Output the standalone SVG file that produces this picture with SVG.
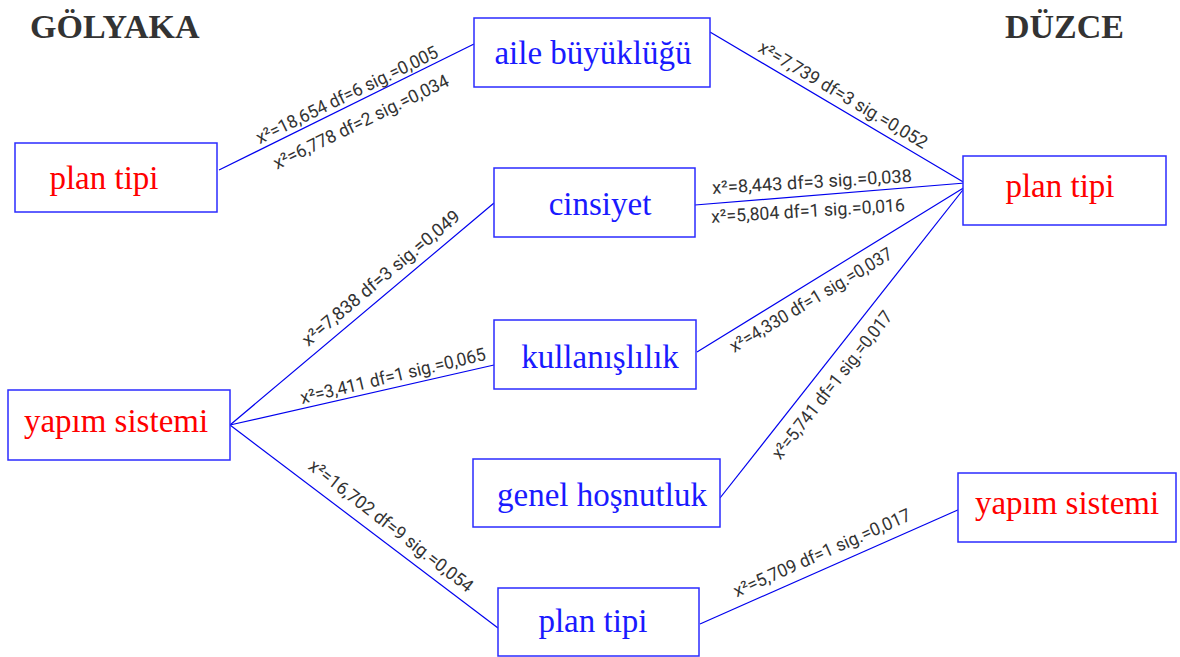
<svg xmlns="http://www.w3.org/2000/svg" width="1180" height="657" viewBox="0 0 1180 657">
<style>
.box{fill:#fff;stroke:#2b2bff;stroke-width:1.5}
.nb{font-family:"Liberation Serif","Times New Roman",serif;font-size:33px;fill:#1a1aff;text-anchor:middle}
.nr{font-family:"Liberation Serif","Times New Roman",serif;font-size:33px;fill:#ff0000;text-anchor:middle}
.title{font-family:"Liberation Serif","Times New Roman",serif;font-size:34px;font-weight:bold;fill:#333}
.ln{stroke:#0000ee;stroke-width:1.2;fill:none}
.lb{font-family:Roboto,"Open Sans","DejaVu Sans",sans-serif;font-size:18px;fill:#333;text-anchor:middle}
</style>
<rect width="1180" height="657" fill="#fff"/>
<text class="title" x="30" y="38">GÖLYAKA</text>
<text class="title" x="1005" y="38">DÜZCE</text>
<g id="connectors">
<line class="ln" x1="219" y1="170" x2="474" y2="44"/>
<line class="ln" x1="710" y1="32" x2="965" y2="183"/>
<line class="ln" x1="695" y1="205" x2="965" y2="183"/>
<line class="ln" x1="697" y1="352" x2="965" y2="187"/>
<line class="ln" x1="720" y1="498" x2="966" y2="186"/>
<line class="ln" x1="230" y1="425" x2="494" y2="203"/>
<line class="ln" x1="230" y1="425" x2="494" y2="365"/>
<line class="ln" x1="230" y1="425" x2="498" y2="628"/>
<line class="ln" x1="700" y1="624" x2="960" y2="509"/>
<g class="lb">
<text class="lb" transform="translate(347,95) rotate(-26)" y="6" textLength="200" lengthAdjust="spacingAndGlyphs">x²=18,654 df=6 sig.=0,005</text>
<text class="lb" transform="translate(361,122) rotate(-26)" y="6" textLength="193" lengthAdjust="spacingAndGlyphs">x²=6,778 df=2 sig.=0,034</text>
<text class="lb" transform="translate(843,95) rotate(30.6)" y="6" textLength="193" lengthAdjust="spacingAndGlyphs">x²=7,739 df=3 sig.=0,052</text>
<text class="lb" transform="translate(812,182) rotate(-3.5)" y="6" textLength="200" lengthAdjust="spacingAndGlyphs">x²=8,443 df=3 sig.=0,038</text>
<text class="lb" transform="translate(808,211) rotate(-3.5)" y="6" textLength="194" lengthAdjust="spacingAndGlyphs">x²=5,804 df=1 sig.=0,016</text>
<text class="lb" transform="translate(811,300) rotate(-31)" y="6" textLength="186" lengthAdjust="spacingAndGlyphs">x²=4,330 df=1 sig.=0,037</text>
<text class="lb" transform="translate(832,385) rotate(-51.8)" y="6" textLength="183" lengthAdjust="spacingAndGlyphs">x²=5,741 df=1 sig.=0,017</text>
<text class="lb" transform="translate(381,278) rotate(-40)" y="6" textLength="200" lengthAdjust="spacingAndGlyphs">x²=7,838 df=3 sig.=0,049</text>
<text class="lb" transform="translate(393,376) rotate(-13.5)" y="6" textLength="190" lengthAdjust="spacingAndGlyphs">x²=3,411 df=1 sig.=0,065</text>
<text class="lb" transform="translate(391,526) rotate(38)" y="6" textLength="203" lengthAdjust="spacingAndGlyphs">x²=16,702 df=9 sig.=0,054</text>
<text class="lb" transform="translate(822,553) rotate(-24)" y="6" textLength="192" lengthAdjust="spacingAndGlyphs">x²=5,709 df=1 sig.=0,017</text>
</g>
</g>
<g id="n-aile"><rect class="box" x="474" y="18" width="236" height="69"/><text class="nb" x="593" y="64">aile büyüklüğü</text></g>
<g id="n-plan-left"><rect class="box" x="15" y="143" width="202" height="69"/><text class="nr" x="104" y="189">plan tipi</text></g>
<g id="n-cinsiyet"><rect class="box" x="494" y="168" width="201" height="69"/><text class="nb" x="600" y="215">cinsiyet</text></g>
<g id="n-kullanislilik"><rect class="box" x="494" y="320" width="202" height="69"/><text class="nb" x="600" y="368">kullanışlılık</text></g>
<g id="n-genel"><rect class="box" x="473" y="459" width="247" height="68"/><text class="nb" x="602" y="506">genel hoşnutluk</text></g>
<g id="n-yapim-left"><rect class="box" x="8" y="390" width="222" height="70"/><text class="nr" x="116" y="432">yapım sistemi</text></g>
<g id="n-plan-bottom"><rect class="box" x="498" y="588" width="201" height="68"/><text class="nb" x="593" y="632">plan tipi</text></g>
<g id="n-plan-right"><rect class="box" x="963" y="156" width="203" height="69"/><text class="nr" x="1060" y="197">plan tipi</text></g>
<g id="n-yapim-right"><rect class="box" x="958" y="473" width="218" height="69"/><text class="nr" x="1067" y="514">yapım sistemi</text></g>
</svg>
